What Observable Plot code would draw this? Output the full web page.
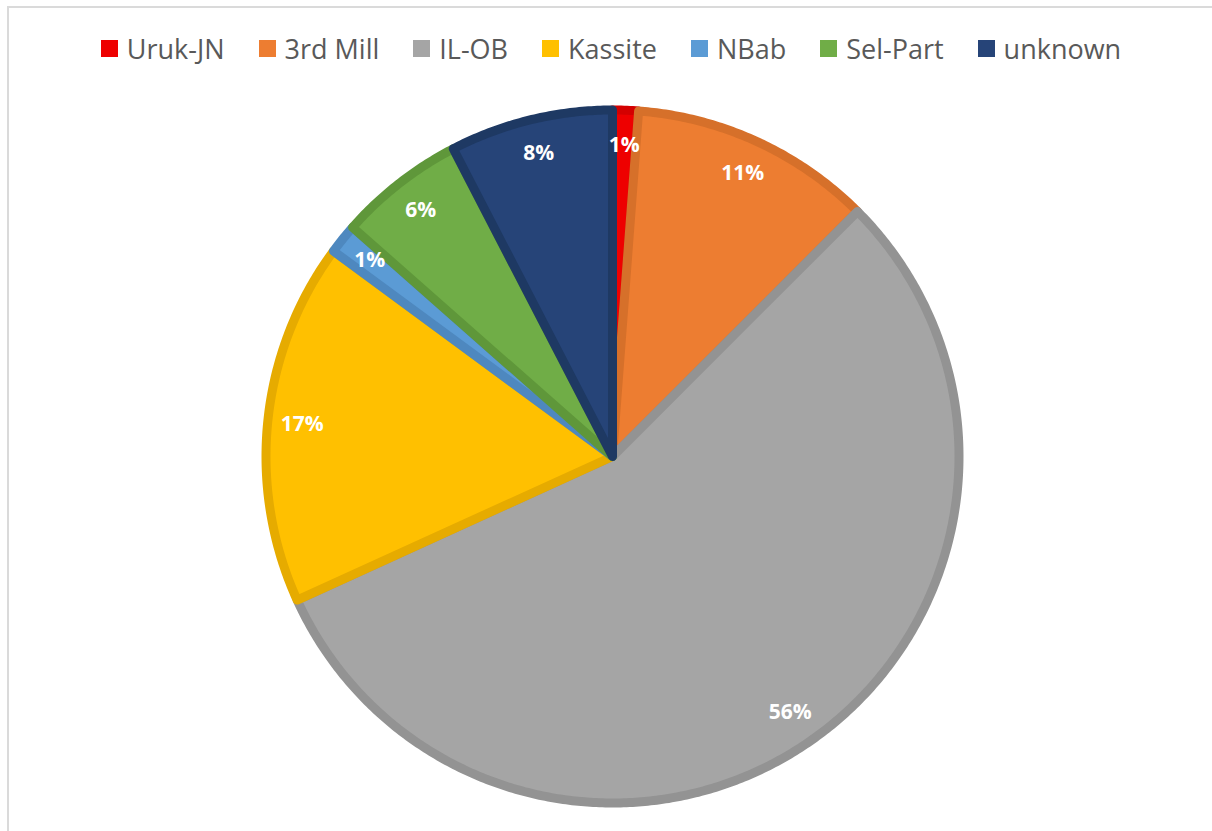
<!DOCTYPE html>
<html>
<head>
<meta charset="utf-8">
<script src="https://cdn.jsdelivr.net/npm/d3@7"></script>
<script src="https://cdn.jsdelivr.net/npm/@observablehq/plot@0.6"></script>
<style>
  html, body { margin: 0; padding: 0; background: #ffffff; }
  body { width: 1212px; height: 831px; position: relative; overflow: hidden; font-family: "Open Sans", sans-serif; }
  #frame { position: absolute; left: 7px; top: 6px; right: -10px; bottom: -10px; border-left: 2px solid #dadada; border-top: 2px solid #dadada; }
  #legend { position: absolute; left: 5px; top: 30px; width: 1212px; height: 36px; display: flex; justify-content: center; align-items: center; gap: 34px; }
  .item { display: flex; align-items: center; gap: 9px; font-size: 27px; color: #595959; line-height: 1; }
  .sw { width: 17px; height: 17px; display: inline-block; }
  #chart { position: absolute; left: 0; top: 100px; }
</style>
</head>
<body>
<div id="frame"></div>
<div id="legend"></div>
<div id="chart"></div>
<script>
const categories = ["Uruk-JN", "3rd Mill", "IL-OB", "Kassite", "NBab", "Sel-Part", "unknown"];
const shares     = [1.2, 11.3, 55.7, 16.9, 1.4, 5.9, 7.6];
const fills      = ["#ee0000", "#ed7d31", "#a5a5a5", "#ffc000", "#5b9bd5", "#70ad47", "#264478"];
const outlines   = ["#d40000", "#d6702a", "#939393", "#e6ab00", "#4e88bf", "#5f973a", "#1e3963"];

// legend
const legend = d3.select("#legend");
categories.forEach((c, i) => {
  const it = legend.append("div").attr("class", "item");
  it.append("span").attr("class", "sw").style("background", fills[i]);
  it.append("span").text(c);
});

// pie geometry from data
const total = d3.sum(shares);
const rows = categories.map((c, i) => ({name: c, value: shares[i], fill: fills[i], stroke: outlines[i]}));
const arcs = d3.pie().sort(null).value(d => d.value).startAngle(0).endAngle(2 * Math.PI)(rows);

const outline = [];
const labels = [];
arcs.forEach(a => {
  const d = a.data;
  outline.push({name: d.name, fill: d.fill, stroke: d.stroke, x: 0, y: 0});
  const n = Math.max(2, Math.ceil((a.endAngle - a.startAngle) / (Math.PI / 360)));
  for (let k = 0; k <= n; ++k) {
    const t = a.startAngle + (a.endAngle - a.startAngle) * k / n;
    outline.push({name: d.name, fill: d.fill, stroke: d.stroke, x: Math.sin(t), y: Math.cos(t)});
  }
  const m = (a.startAngle + a.endAngle) / 2;
  labels.push({x: 0.9 * Math.sin(m), y: 0.9 * Math.cos(m), text: Math.round(d.value / total * 100) + "%"});
});

const R = 351;
const cx = 612, cy = 356;
const plot = Plot.plot({
  width: 1212,
  height: 712,
  marginLeft: cx - R,
  marginRight: 1212 - cx - R,
  marginTop: cy - R,
  marginBottom: 712 - cy - R,
  x: {domain: [-1.013, 1.013], axis: null},
  y: {domain: [-1.013, 1.013], axis: null},
  color: {type: "identity"},
  style: {background: "transparent", overflow: "visible"},
  marks: [
    Plot.line(outline, {x: "x", y: "y", z: "name", fill: "fill", stroke: "stroke", strokeWidth: 9, strokeLinejoin: "round", curve: "linear-closed"}),
    Plot.text(labels, {x: "x", y: "y", text: "text", fill: "white", fontSize: 21, fontWeight: "bold", fontFamily: "Open Sans"})
  ]
});
document.getElementById("chart").appendChild(plot);
</script>
</body>
</html>
